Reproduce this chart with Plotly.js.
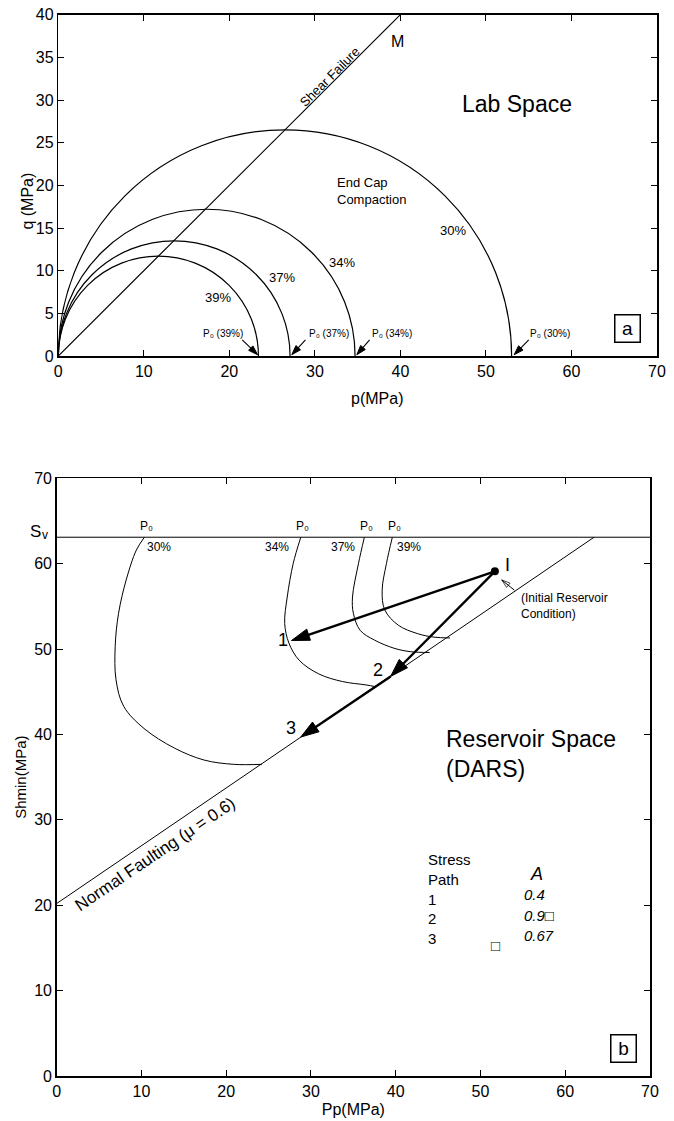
<!DOCTYPE html>
<html><head><meta charset="utf-8">
<script src="https://cdn.plot.ly/plotly-3.0.1.min.js"></script>
<style>html,body{margin:0;padding:0;background:#fff}</style>
</head><body><div id="chart" style="width:674px;height:1121px"></div>
<script>
// ===== Panel a : Lab space =====
const capPorosity = ['39%', '37%', '34%', '30%'];
const capP0 = [23.4, 27.1, 34.7, 53.0];      // end-cap intercept on p axis (MPa)
const capQmax = [11.7, 13.5, 17.2, 26.5];    // cap height (MPa)
const capLabelP = [18.7, 26.2, 33.2, 46.2];
const capLabelQ = [6.8, 9.2, 11.0, 14.7];
const shearP = [0, 40];
const shearQ = [0, 40];
const p0LabelP = [19.2, 31.7, 39.05, 57.5];
const p0LabelQ = [2.6, 2.6, 2.6, 2.6];
const p0TailP = [21.5, 28.9, 36.4, 55.0];
const p0TailQ = [1.9, 1.9, 1.9, 1.9];
const p0HeadP = [23.3, 27.3, 34.9, 53.3];
const p0HeadQ = [0.15, 0.15, 0.15, 0.15];

// ===== Panel b : Reservoir space =====
const svValue = 63.1;
const svX = [0, 70];
const svY = [svValue, svValue];
const faultX = [0, 63.4];
const faultY = [20.2, 63.1];
const c30X = [10.35, 9.4, 8.2, 7.3, 6.9, 7.0, 7.9, 10.3, 13.9, 17.4, 20.9, 24.2];
const c30Y = [63.1, 61.6, 58.1, 54.2, 50.3, 46.4, 43.3, 40.7, 38.4, 37.0, 36.5, 36.5];
const c34X = [28.8, 27.9, 27.2, 26.9, 27.4, 28.6, 30.9, 33.7, 36.5, 37.6];
const c34Y = [63.1, 60.0, 56.1, 53.0, 50.7, 48.7, 47.1, 46.2, 45.8, 45.6];
const c37X = [36.3, 35.6, 34.9, 35.0, 35.8, 37.5, 39.8, 41.7, 44.0];
const c37Y = [63.1, 60.0, 56.1, 54.2, 52.2, 51.05, 50.1, 49.7, 49.6];
const c39X = [39.6, 38.9, 38.4, 38.7, 40.3, 42.6, 44.5, 46.4];
const c39Y = [63.1, 60.0, 56.9, 54.6, 52.8, 51.8, 51.4, 51.3];
const resP0LabelX = [10.6, 29.0, 36.5, 39.9];
const resPctLabelX = [12.1, 26.0, 33.8, 41.6];
const resPctLabels = ['30%', '34%', '37%', '39%'];
const initX = [51.7];
const initY = [59.1];
const pathStartX = [51.7, 51.7, 39.4];
const pathStartY = [59.1, 59.1, 46.8];
const pathEndX = [27.7, 39.4, 28.8];
const pathEndY = [51.0, 46.8, 39.7];
const pathLabels = ['1', '2', '3'];
const pathLabelX = [26.7, 37.9, 27.6];
const pathLabelY = [51.1, 47.5, 40.8];
const initArrowX = [54.0, 52.5];
const initArrowY = [56.9, 58.1];
const tableIds = ['1', '2', '3'];
const tableA = ['0.4', '0.9\u25A1', '0.67'];
const tableRowY = [20.7, 18.5, 16.1];
const tableAY = [21.3, 18.8, 16.5];

const FONT = 'Liberation Sans, Arial, Helvetica, DejaVu Sans, sans-serif';
const BLACK = '#000';

const traces = [];
traces.push({x: shearP, y: shearQ, xaxis: 'x', yaxis: 'y', mode: 'lines',
  line: {color: BLACK, width: 1.2}, hoverinfo: 'skip', showlegend: false});
// P0 arrows (panel a)
p0TailP.forEach((tp, i) => {
  traces.push({x: [tp, p0HeadP[i]], y: [p0TailQ[i], p0HeadQ[i]], xaxis: 'x', yaxis: 'y', mode: 'lines+markers',
    line: {color: BLACK, width: 1.1},
    marker: {symbol: 'arrow', size: [0, 10], angleref: 'previous', color: BLACK, opacity: 1, line: {color: BLACK, width: 1}},
    hoverinfo: 'skip', showlegend: false});
});

traces.push({x: svX, y: svY, xaxis: 'x2', yaxis: 'y2', mode: 'lines',
  line: {color: BLACK, width: 1}, showlegend: false, hoverinfo: 'skip'});
traces.push({x: faultX, y: faultY, xaxis: 'x2', yaxis: 'y2', mode: 'lines',
  line: {color: BLACK, width: 1}, showlegend: false, hoverinfo: 'skip'});
[[c30X, c30Y], [c34X, c34Y], [c37X, c37Y], [c39X, c39Y]].forEach(c => {
  traces.push({x: c[0], y: c[1], xaxis: 'x2', yaxis: 'y2', mode: 'lines',
    line: {color: BLACK, width: 1, shape: 'spline', smoothing: 1}, showlegend: false, hoverinfo: 'skip'});
});
// stress paths
pathStartX.forEach((sx, i) => {
  traces.push({x: [sx, pathEndX[i]], y: [pathStartY[i], pathEndY[i]], xaxis: 'x2', yaxis: 'y2', mode: 'lines+markers',
    line: {color: BLACK, width: 2.4},
    marker: {symbol: 'arrow', size: [0, 19], angleref: 'previous', color: BLACK, opacity: 1, line: {color: BLACK, width: 1}},
    hoverinfo: 'skip', showlegend: false});
});
traces.push({x: initArrowX, y: initArrowY, xaxis: 'x2', yaxis: 'y2', mode: 'lines+markers',
  line: {color: BLACK, width: 1},
  marker: {symbol: 'arrow-open', size: [0, 9], angleref: 'previous', color: BLACK, line: {color: BLACK, width: 1}},
  hoverinfo: 'skip', showlegend: false});
traces.push({x: initX, y: initY, xaxis: 'x2', yaxis: 'y2', mode: 'markers',
  marker: {color: BLACK, size: 8}, showlegend: false, hoverinfo: 'skip'});

// circles (end caps) drawn through axis scales
const shapes = capP0.map((p0, i) => ({
  type: 'circle', xref: 'x', yref: 'y', x0: 0, x1: p0, y0: -capQmax[i], y1: capQmax[i],
  line: {color: BLACK, width: 1.2}, fillcolor: 'rgba(0,0,0,0)', layer: 'above'
}));

const ann = [];
const t = (o) => ann.push(Object.assign({showarrow: false, font: {family: FONT, size: 13, color: BLACK}}, o));

// Panel a texts
t({xref: 'x', yref: 'y', x: 39.7, y: 36.85, text: 'M', font: {family: FONT, size: 16, color: BLACK}});
t({xref: 'x', yref: 'y', x: 31.8, y: 32.7, text: 'Shear Failure', textangle: -45, font: {family: FONT, size: 13, color: BLACK}});
t({xref: 'x', yref: 'y', x: 53.6, y: 29.5, text: 'Lab Space', font: {family: FONT, size: 23, color: BLACK}});
t({xref: 'x', yref: 'y', x: 32.4, y: 19.3, xanchor: 'left', align: 'left', text: 'End Cap<br>Compaction'});
capPorosity.forEach((lab, i) => t({xref: 'x', yref: 'y', x: capLabelP[i], y: capLabelQ[i], text: lab}));
capPorosity.forEach((lab, i) => {
  t({xref: 'x', yref: 'y', x: p0LabelP[i], y: p0LabelQ[i], text: 'P\u2080 (' + lab + ')', font: {family: FONT, size: 10, color: BLACK}});
});
t({xref: 'x', yref: 'y', x: 66.5, y: 3.2, text: 'a', font: {family: FONT, size: 19, color: BLACK},
  bordercolor: BLACK, borderwidth: 1.5, borderpad: 1, width: 22, height: 24});
// axis titles panel a
t({xref: 'x', yref: 'paper', x: 37.3, y: (1121 - 398) / 1121, yanchor: 'middle', text: 'p(MPa)', font: {family: FONT, size: 16, color: BLACK}});
t({xref: 'paper', yref: 'y', x: 17.5 / 674, y: 18.1, textangle: -90, text: 'q (MPa)', font: {family: FONT, size: 16, color: BLACK}});

// Panel b texts
t({xref: 'paper', yref: 'y2', x: 43 / 674, y: svValue, xanchor: 'right', yanchor: 'middle', yshift: 6,
  text: 'S', font: {family: FONT, size: 17, color: BLACK}});
t({xref: 'paper', yref: 'y2', x: 43 / 674, y: svValue, xanchor: 'left', yanchor: 'middle', xshift: -3, yshift: 2,
  text: 'v', font: {family: FONT, size: 12, color: BLACK}});
resP0LabelX.forEach((x, i) => {
  t({xref: 'x2', yref: 'y2', x: x, y: 64.4, text: 'P\u2080', font: {family: FONT, size: 12, color: BLACK}});
  t({xref: 'x2', yref: 'y2', x: resPctLabelX[i], y: 61.9, text: resPctLabels[i], font: {family: FONT, size: 12, color: BLACK}});
});
t({xref: 'x2', yref: 'y2', x: 11.6, y: 25.9, text: 'Normal Faulting (\u03BC = 0.6)', textangle: -34, font: {family: FONT, size: 17, color: BLACK}});
pathLabels.forEach((lab, i) => {
  t({xref: 'x2', yref: 'y2', x: pathLabelX[i], y: pathLabelY[i], text: lab, font: {family: FONT, size: 18, color: BLACK}});
});
t({xref: 'x2', yref: 'y2', x: 53.2, y: 59.8, text: 'I', font: {family: FONT, size: 18, color: BLACK}});
t({xref: 'x2', yref: 'y2', x: 54.5, y: 55.1, xanchor: 'left', align: 'left', text: '(Initial Reservoir<br>Condition)', font: {family: FONT, size: 12, color: BLACK}});
t({xref: 'x2', yref: 'y2', x: 45.7, y: 37.75, xanchor: 'left', align: 'left', text: 'Reservoir Space<br>(DARS)', font: {family: FONT, size: 23, color: BLACK}});
t({xref: 'x2', yref: 'y2', x: 43.6, y: 25.4, xanchor: 'left', text: 'Stress', font: {family: FONT, size: 15, color: BLACK}});
t({xref: 'x2', yref: 'y2', x: 43.6, y: 23.0, xanchor: 'left', text: 'Path', font: {family: FONT, size: 15, color: BLACK}});
t({xref: 'x2', yref: 'y2', x: 56.6, y: 23.7, text: '<i>A</i>', font: {family: FONT, size: 18, color: BLACK}});
tableIds.forEach((id, i) => {
  t({xref: 'x2', yref: 'y2', x: 43.6, y: tableRowY[i], xanchor: 'left', text: id, font: {family: FONT, size: 15, color: BLACK}});
  t({xref: 'x2', yref: 'y2', x: 54.9, y: tableAY[i], xanchor: 'left', text: '<i>' + tableA[i] + '</i>', font: {family: FONT, size: 15, color: BLACK}});
});
t({xref: 'x2', yref: 'y2', x: 51.8, y: 15.3, text: '\u25A1', font: {family: FONT, size: 15, color: BLACK}});
t({xref: 'x2', yref: 'y2', x: 66.85, y: 3.2, text: 'b', font: {family: FONT, size: 19, color: BLACK},
  bordercolor: BLACK, borderwidth: 1.5, borderpad: 1, width: 22, height: 24});

const axisCommon = {showline: true, linecolor: BLACK, linewidth: 1.5, mirror: 'ticks', ticks: 'inside',
  ticklen: 6, tickwidth: 1, tickcolor: BLACK, showgrid: false, zeroline: false, automargin: false,
  tickfont: {family: FONT, size: 16, color: BLACK}, fixedrange: true};

const layout = {
  width: 674, height: 1121, margin: {l: 0, r: 0, t: 0, b: 0},
  paper_bgcolor: '#fff', plot_bgcolor: '#fff', showlegend: false,
  font: {family: FONT, color: BLACK},
  xaxis: Object.assign({}, axisCommon, {domain: [58.3 / 674, 657 / 674], range: [0, 70], tick0: 0, dtick: 10, anchor: 'y'}),
  yaxis: Object.assign({}, axisCommon, {domain: [(1121 - 356) / 1121, (1121 - 14.7) / 1121], range: [0, 40], tick0: 0, dtick: 5, anchor: 'x'}),
  xaxis2: Object.assign({}, axisCommon, {domain: [56.7 / 674, 650 / 674], range: [0, 70], tick0: 0, dtick: 10, anchor: 'y2',
    title: {text: 'Pp(MPa)', font: {family: FONT, size: 16, color: BLACK}, standoff: 5}}),
  yaxis2: Object.assign({}, axisCommon, {domain: [45 / 1121, (1121 - 478.3) / 1121], range: [0, 70], tick0: 0, dtick: 10, anchor: 'x2',
    title: {text: 'Shmin(MPa)', font: {family: FONT, size: 15, color: BLACK}, standoff: 4}}),
  shapes: shapes,
  annotations: ann
};

Plotly.newPlot('chart', traces, layout, {staticPlot: true, displayModeBar: false});
</script>
</body></html>
